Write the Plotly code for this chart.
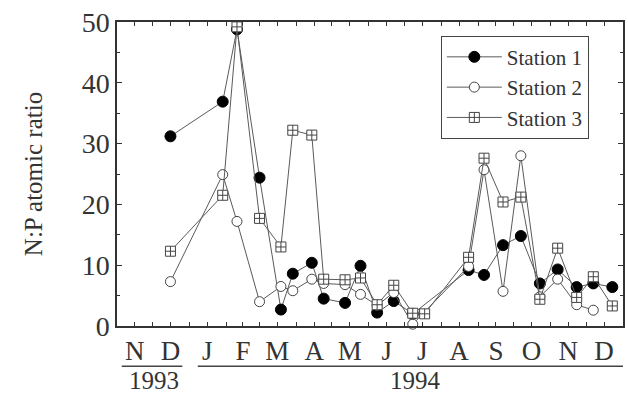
import plotly.graph_objects as go

# Sampling dates
dates = ["1993-12-16", "1994-01-29", "1994-02-10", "1994-03-01", "1994-03-19",
         "1994-03-29", "1994-04-14", "1994-04-24", "1994-05-12", "1994-05-25",
         "1994-06-08", "1994-06-22", "1994-07-08", "1994-07-18", "1994-08-24",
         "1994-09-06", "1994-09-22", "1994-10-07", "1994-10-23", "1994-11-07",
         "1994-11-23", "1994-12-07", "1994-12-23"]

station1 = [31.2, 36.9, 48.8, 24.4, 2.7, 8.6, 10.4, 4.5, 3.8, 9.9, 2.2, 4.1,
            2.0, None, 9.2, 8.4, 13.3, 14.8, 7.0, 9.3, 6.4, 7.0, 6.4]
station2 = [7.3, 24.9, 17.2, 4.0, 6.5, 5.8, 7.7, 7.0, 6.8, 5.2, 3.4, 5.5,
            0.3, None, 9.8, 25.7, 5.7, 28.0, 4.8, 7.7, 3.5, 2.6, None]
station3 = [12.3, 21.5, 49.2, 17.7, 13.0, 32.2, 31.4, 7.7, 7.6, 7.9, 3.5, 6.7,
            2.1, 2.0, 11.3, 27.6, 20.4, 21.2, 4.4, 12.8, 4.7, 8.1, 3.3]

month_vals = ["1993-11-16", "1993-12-16", "1994-01-16", "1994-02-15", "1994-03-16",
              "1994-04-16", "1994-05-16", "1994-06-16", "1994-07-16", "1994-08-16",
              "1994-09-16", "1994-10-16", "1994-11-16", "1994-12-16"]
month_labels = ["N", "D", "J", "F", "M", "A", "M", "J", "J", "A", "S", "O", "N", "D"]
year_labels = ["1993", "1994"]

FONT = '"Liberation Serif", "Times New Roman", serif'
LINE = "#5a5a5a"
TXT = "#333333"

fig = go.Figure()
fig.add_trace(go.Scatter(
    x=dates, y=station1, name="Station 1", mode="lines+markers", connectgaps=True,
    line=dict(color=LINE, width=1),
    marker=dict(symbol="circle", size=11, color="black", line=dict(color="black", width=1)),
    cliponaxis=False))
fig.add_trace(go.Scatter(
    x=dates, y=station2, name="Station 2", mode="lines+markers", connectgaps=True,
    line=dict(color=LINE, width=1),
    marker=dict(symbol="circle", size=10, color="white", line=dict(color="#444", width=1)),
    cliponaxis=False))
fig.add_trace(go.Scatter(
    x=dates, y=station3, name="Station 3", mode="lines+markers", connectgaps=True,
    line=dict(color=LINE, width=1),
    marker=dict(symbol="square-cross", size=10, color="white", line=dict(color="#444", width=1)),
    cliponaxis=False))

fig.update_layout(
    width=628, height=394,
    margin=dict(l=117, r=3, t=22, b=68),
    paper_bgcolor="white", plot_bgcolor="white",
    font=dict(family=FONT, color=TXT),
    showlegend=True,
    legend=dict(x=0.64, y=0.955, xanchor="left", yanchor="top",
                bordercolor="#444", borderwidth=1, bgcolor="white",
                font=dict(family=FONT, size=21, color=TXT),
                itemwidth=55, tracegroupgap=0),
)

fig.update_xaxes(
    type="date", range=["1993-11-01", "1995-01-01"],
    tickmode="array", tickvals=month_vals, ticktext=month_labels,
    tickfont=dict(family=FONT, size=27, color=TXT),
    ticks="inside", ticklen=4, tickcolor="#333",
    showgrid=False, zeroline=False,
    showline=True, linecolor="#333", linewidth=1.5, mirror="ticks",
    minor=dict(ticks="inside", ticklen=4, tickcolor="#333", dtick="M1",
               tick0="1993-11-01", showgrid=False),
)
fig.update_yaxes(
    range=[0, 50], tickvals=[0, 10, 20, 30, 40, 50],
    tickfont=dict(family=FONT, size=28, color=TXT),
    ticks="inside", ticklen=5, tickcolor="#333",
    showgrid=False, zeroline=False,
    showline=True, linecolor="#333", linewidth=1.5, mirror="ticks",
    title=dict(text="N:P atomic ratio", font=dict(family=FONT, size=25, color=TXT), standoff=32),
    minor=dict(ticks="inside", ticklen=3, tickcolor="#333", dtick=5, showgrid=False),
)

# Year bars and labels
fig.add_shape(type="line", xref="x", yref="paper", x0="1993-11-05", x1="1993-12-26",
              y0=-0.132, y1=-0.132, line=dict(color="#444", width=1.5))
fig.add_shape(type="line", xref="x", yref="paper", x0="1994-01-08", x1="1995-01-01",
              y0=-0.132, y1=-0.132, line=dict(color="#444", width=1.5))
fig.add_annotation(x="1993-12-02", y=-0.18, xref="x", yref="paper", text=year_labels[0],
                   showarrow=False, yanchor="middle", font=dict(family=FONT, size=25, color=TXT))
fig.add_annotation(x="1994-07-10", y=-0.18, xref="x", yref="paper", text=year_labels[1],
                   showarrow=False, yanchor="middle", font=dict(family=FONT, size=25, color=TXT))

fig.write_html("out.html")
